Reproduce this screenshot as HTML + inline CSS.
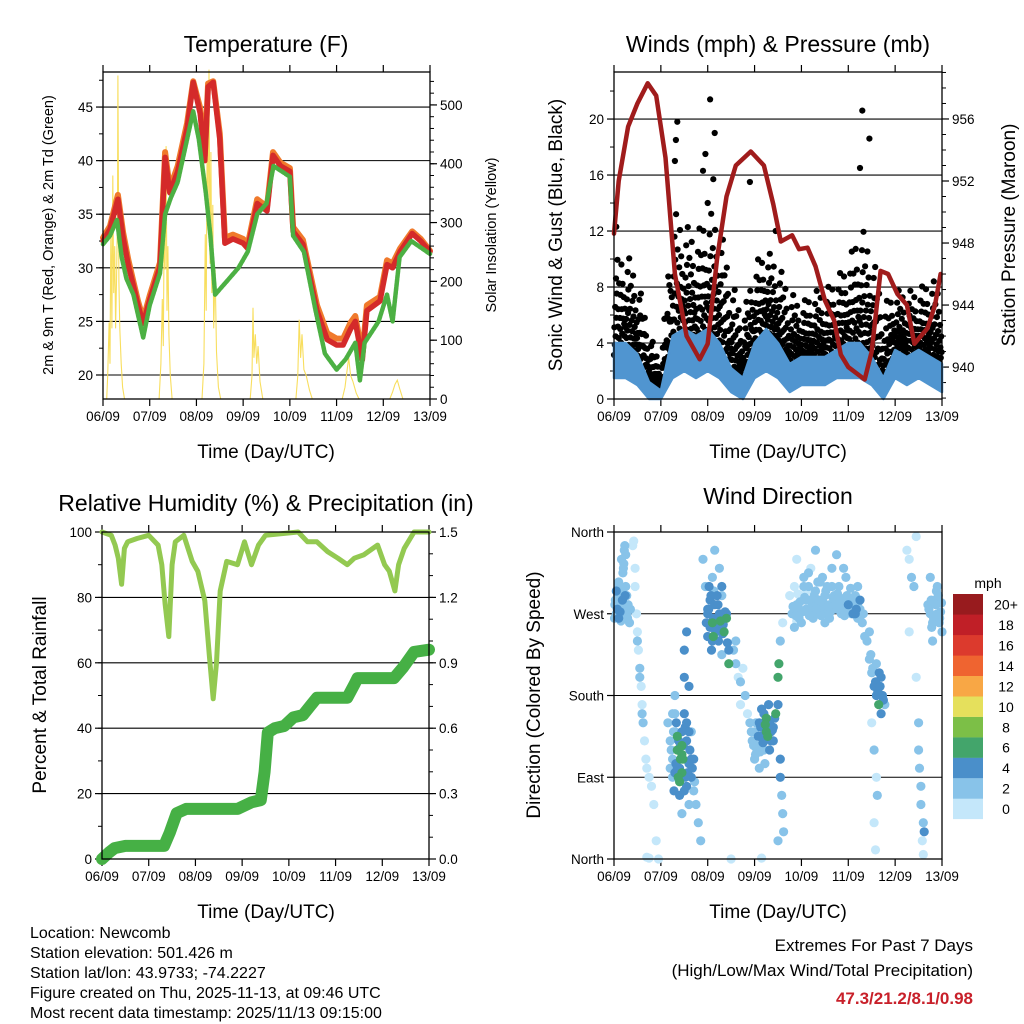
<!DOCTYPE html>
<html><head><meta charset="utf-8">
<style>
html,body{margin:0;padding:0;background:#fff;}
svg{display:block;font-family:"Liberation Sans",sans-serif;}
</style></head>
<body>
<svg id="chart" width="1024" height="1024" viewBox="0 0 1024 1024" xmlns="http://www.w3.org/2000/svg">
<rect x="0" y="0" width="1024" height="1024" fill="#fff"/>
<text x="266" y="52" font-size="23" text-anchor="middle">Temperature (F)</text>
<text x="778" y="52" font-size="23" text-anchor="middle">Winds (mph) &amp; Pressure (mb)</text>
<text x="266" y="511" font-size="23" text-anchor="middle">Relative Humidity (%) &amp; Precipitation (in)</text>
<text x="778" y="504" font-size="23" text-anchor="middle">Wind Direction</text>
<text transform="translate(53,235) rotate(-90)" font-size="14.5" text-anchor="middle">2m &amp; 9m T (Red, Orange) &amp; 2m Td (Green)</text>
<text transform="translate(496,235) rotate(-90)" font-size="14.5" text-anchor="middle">Solar Insolation (Yellow)</text>
<text transform="translate(562,235) rotate(-90)" font-size="19" text-anchor="middle">Sonic Wind &amp; Gust (Blue, Black)</text>
<text transform="translate(1015,235) rotate(-90)" font-size="19" text-anchor="middle">Station Pressure (Maroon)</text>
<text transform="translate(46,695) rotate(-90)" font-size="19" text-anchor="middle">Percent &amp; Total Rainfall</text>
<text transform="translate(540,695) rotate(-90)" font-size="19" text-anchor="middle">Direction (Colored By Speed)</text>
<text x="266" y="458" font-size="19" text-anchor="middle">Time (Day/UTC)</text>
<text x="778" y="458" font-size="19" text-anchor="middle">Time (Day/UTC)</text>
<text x="266" y="918" font-size="19" text-anchor="middle">Time (Day/UTC)</text>
<text x="778" y="918" font-size="19" text-anchor="middle">Time (Day/UTC)</text>
<g font-size="16">
<text x="30" y="938">Location: Newcomb</text>
<text x="30" y="958">Station elevation: 501.426 m</text>
<text x="30" y="978">Station lat/lon: 43.9733; -74.2227</text>
<text x="30" y="998">Figure created on Thu, 2025-11-13, at 09:46 UTC</text>
<text x="30" y="1018">Most recent data timestamp: 2025/11/13 09:15:00</text>
</g>
<g font-size="17" text-anchor="end">
<text x="973" y="951">Extremes For Past 7 Days</text>
<text x="973" y="976">(High/Low/Max Wind/Total Precipitation)</text>
<text x="973" y="1004" fill="#c8202a" font-weight="bold">47.3/21.2/8.1/0.98</text>
</g>
<text x="988" y="588" font-size="14" text-anchor="middle">mph</text>
</svg>
<script>
// ---------- data ----------
const dayLabels = ["06/09","07/09","08/09","09/09","10/09","11/09","12/09","13/09"];
const tempTicks = [20,25,30,35,40,45];
const solarTicks = [0,100,200,300,400,500];
const windTicks = [0,4,8,12,16,20];
const presTicks = [940,944,948,952,956];
const rhTicks = [0,20,40,60,80,100];
const precTicks = [0,0.3,0.6,0.9,1.2,1.5];
const dirTicks = [0,90,180,270,360];
const dirLabels = ["North","East","South","West","North"];
const speedBins = ["0","2","4","6","8","10","12","14","16","18","20+"];
const speedColors = ["#c4e7fa","#88c3e9","#4a8fca","#43a56b","#7cbf47","#e5e05c","#f8a745","#ef6430","#dc3a2d","#c01f27","#981b1e"];

const tempT = [0,0.15,0.32,0.43,0.54,0.64,0.75,0.86,1.0,1.22,1.33,1.43,1.6,1.8,1.93,2.08,2.18,2.25,2.36,2.5,2.61,2.78,3.0,3.1,3.3,3.51,3.64,3.8,4.0,4.07,4.28,4.58,4.8,5.0,5.14,5.3,5.4,5.55,5.65,5.93,6.08,6.2,6.36,6.62,6.8,7.0];
const temp2m = [32.5,33.6,36.4,32.8,30.3,28.5,26.5,24.8,27,30.1,40.3,37,39,43,47.3,44.4,40,46.9,47.3,42,32.3,32.7,32.3,31.8,36,35.3,40.5,39.5,39,33.4,32.2,26,23.3,22.8,22.8,24.3,25,21.4,26,26.9,30.3,30,31.5,33.2,32.5,31.5];
const temp9m = [32.8,33.9,36.8,33.3,30.8,28.9,26.9,25.2,27.4,30.5,40.8,37.4,39.5,43.5,47.4,44.9,40.5,47.2,47.4,42.5,32.8,33.1,32.7,32.2,36.4,35.7,40.8,39.8,39.3,33.8,32.6,26.5,23.9,23.4,23.4,24.9,25.5,21.9,26.5,27.3,30.7,30.4,31.8,33.4,32.7,31.6];
const dewT = [0,0.15,0.3,0.4,0.5,0.65,0.86,1.0,1.22,1.33,1.45,1.6,1.8,1.93,2.05,2.2,2.3,2.4,2.6,2.9,3.1,3.3,3.5,3.65,4.0,4.07,4.3,4.55,4.75,5.0,5.2,5.4,5.5,5.6,5.9,6.08,6.2,6.35,6.6,7.0];
const dewpt = [32.2,33,34.5,31,29,27.5,23.5,26.5,29.5,35,36.5,38,42,44.6,42,37,33,27.5,28.5,30,31.5,35,36,39.5,38.5,33,31.5,26,22,20.5,21.5,23,19.5,23,25,27.5,25,31,32.5,31.3];
const solarT = [0,0.08,0.1,0.13,0.15,0.17,0.19,0.21,0.23,0.25,0.27,0.29,0.31,0.32,0.34,0.36,0.39,0.42,0.46,1.2,1.24,1.27,1.29,1.31,1.33,1.35,1.37,1.39,1.41,1.44,1.48,2.12,2.16,2.19,2.21,2.23,2.25,2.27,2.29,2.31,2.33,2.35,2.37,2.4,2.43,2.47,2.52,3.15,3.19,3.21,3.23,3.26,3.29,3.32,3.36,3.42,4.13,4.17,4.2,4.23,4.26,4.3,4.35,4.42,4.48,5.12,5.18,5.22,5.26,5.3,5.35,5.42,5.48,6.14,6.2,6.25,6.3,6.35,6.42,7.0];
const solarW = [0,0,40,130,60,300,120,380,180,260,120,200,320,550,200,120,60,20,0,0,60,170,90,300,220,430,150,260,110,40,0,0,60,280,150,460,300,560,230,420,180,330,120,220,80,20,0,0,40,155,70,110,60,90,30,0,0,40,135,70,110,50,40,15,0,0,20,45,70,40,30,10,0,0,12,25,32,18,0,0];

const windT = [0,0.25,0.5,0.75,1,1.25,1.5,1.75,2,2.25,2.5,2.75,3,3.25,3.5,3.75,4,4.25,4.5,4.75,5,5.25,5.5,5.75,6,6.25,6.5,6.75,7];
const gustHi = [10,11,9,5,2.5,14,13,12,14,13,9,6,10,11,10,8,7,8,8,9,10,13,11,7,8,8,8,9,8];
const gustLo = [3,3.5,3,1,0.5,3.5,4.5,4,4.5,4,2,1.5,3.5,4.5,3.5,2,2.5,2.5,2.5,3,3.5,3.5,3,1,3,2.5,3,3,2];
const windHi = [4,4,3.2,1.2,0.6,4.5,5,4.5,5,4,2.2,1.5,4,5,4,2.5,3,3,3,3.5,4,4,3,1.5,3.5,3,3.5,3,2.5];
const windLo = [1.5,1.5,1,0,0,1.5,2,1.5,2,1.5,0.5,0,1.5,2,1.5,0.5,1,1,1,1.5,1.5,1.5,1,0,1.5,1,1.5,1,0.5];
const gustPeakT = [1.35,1.3,2.05,1.95,2.15,2.9,5.3,5.45,5.25,1.9,2.12,3.45,0.05,1.32,2.0];
const gustPeakV = [19.8,17,21.4,17.5,19,15.5,20.6,18.6,16.5,16.3,15.7,12,12.3,18.5,14];
const presT = [0,0.1,0.3,0.5,0.72,0.9,1.1,1.3,1.55,1.83,2.0,2.2,2.4,2.6,2.92,3.2,3.4,3.56,3.8,3.95,4.13,4.3,4.5,4.7,4.84,5.0,5.35,5.5,5.69,5.85,6.05,6.25,6.41,6.55,6.69,6.85,6.97];
const presMb = [948.6,952,955.5,957,958.3,957.5,953.5,946,942,940.5,941.5,947,951,953,953.9,953,950.5,948.1,948.5,947.6,947.7,946.5,944.3,943,940.8,940,939.2,941,946.2,946,944.7,944,941.5,942,942.5,944,946];

const rhT = [0,0.2,0.28,0.35,0.42,0.48,0.55,0.75,1.0,1.2,1.28,1.35,1.43,1.5,1.57,1.75,1.93,2.05,2.2,2.3,2.38,2.45,2.53,2.67,2.9,3.05,3.2,3.35,3.5,4.2,4.4,4.6,4.83,5.05,5.25,5.4,5.6,5.9,6.05,6.15,6.27,6.35,6.47,6.68,7.0];
const rhPct = [100,99,96,92,84,95,97,98,99,96,90,78,68,90,97,99,91,88,79,62,49,60,82,91,90,97,90,96,99,100,97,97,94,92,90,92,93,96,90,88,82,90,95,100,100];
const precT = [0,0.15,0.27,0.5,1.33,1.45,1.6,1.8,2.9,3.2,3.4,3.48,3.55,3.7,3.9,4.1,4.3,4.45,4.6,5.25,5.4,5.47,6.25,6.45,6.68,7.0];
const precIn = [0,0.03,0.05,0.06,0.06,0.12,0.21,0.23,0.23,0.26,0.27,0.4,0.58,0.6,0.61,0.65,0.66,0.7,0.74,0.74,0.8,0.83,0.83,0.88,0.95,0.96];

const dirT1 = [0.02,0.05,0.08,0.1,0.12,0.15,0.18,0.2,0.22,0.25,0.28,0.3,0.33,0.05,0.15,0.25,0.35,0.1,0.2,0.03,0.13,0.27,
0.42,0.45,0.48,0.5,0.52,0.55,0.58,0.6,0.62,0.65,0.68,0.7,0.75,0.8,0.85,0.5,0.55,0.45,0.4,0.6,0.9,0.95,0.7,0.75,
1.15,1.2,1.25,1.3,1.35,1.4,1.45,1.5,1.55,1.6,1.65,1.7,1.75,1.8,1.85,1.3,1.4,1.45,1.35,1.5,1.5,1.55,1.6,1.25,1.2,1.7,1.65,1.45,1.55,1.6,1.45,1.3,1.38,1.42,1.33,1.48,1.52,1.28,
1.9,1.95,2.0,2.05,2.1,2.15,2.2,2.25,2.3,2.35,2.4,2.45,2.0,2.1,2.2,2.3,2.05,2.15,2.25,2.1,2.4,2.45,2.0,2.2,2.3,2.12,
2.55,2.6,2.65,2.7,2.75,2.8,2.6,2.7,2.85,2.5,3.15,
2.9,2.95,3.0,3.05,3.1,3.15,3.2,3.25,3.3,3.35,3.4,3.45,3.5,3.0,3.1,3.2,3.3,3.4,3.15,3.25,3.05,3.35,3.12,3.28,
3.5,3.52,3.55,3.55,3.58,3.6,3.62,3.55,3.5,3.6,
3.8,3.85,3.9,3.95,4.0,4.05,4.1,4.15,4.2,4.25,4.3,4.35,4.4,4.45,4.5,4.55,4.6,4.65,4.7,4.75,4.8,4.85,4.9,4.95,5.0,5.05,5.1,5.15,5.2,5.25,5.3,3.85,4.2,4.5,4.9,5.2,4.0,4.6,3.9,4.3,4.75,5.35,3.75,4.1,4.4,4.7,5.0,3.95,4.25,4.55,4.85,5.15,
5.4,5.45,5.5,5.55,5.6,5.65,5.7,5.75,5.5,5.55,5.6,5.62,5.55,5.58,5.45,5.7,5.6,
6.25,6.3,6.35,6.3,6.4,6.45,6.5,6.5,6.55,6.55,6.6,6.58,6.6,6.45,6.7,6.75,6.8,6.85,6.9,6.95,7.0,6.8,6.9,6.75,6.62,6.52];
const dirDeg1 = [280,270,290,265,300,275,285,320,340,300,270,280,260,295,262,335,275,305,270,285,272,290,
350,300,270,250,230,210,190,170,150,130,110,100,90,80,60,240,200,320,345,160,20,0,2,1,
150,130,110,95,120,100,140,160,130,105,90,75,60,40,20,140,85,115,100,200,230,250,190,160,100,110,140,95,80,60,50,180,130,110,150,125,90,75,
330,300,270,255,240,280,290,270,300,250,265,230,245,310,255,225,285,340,320,260,270,215,275,262,290,245,
230,215,200,195,210,180,240,170,160,0,1,
150,130,140,120,150,135,160,140,150,130,145,160,170,110,100,120,170,130,165,155,125,140,148,135,
200,215,240,90,70,50,30,110,20,260,
270,300,280,265,290,310,275,300,285,270,295,280,305,275,290,270,280,320,285,275,300,270,280,310,275,285,270,290,265,275,260,255,320,260,320,300,260,265,330,340,335,245,290,285,270,290,280,275,265,300,280,270,
240,220,205,190,180,170,200,175,150,120,90,70,40,10,250,160,215,
340,330,310,250,300,200,150,120,80,60,40,20,5,355,280,270,260,285,270,265,250,240,300,310,30,100];
const dirSpd1 = [3,3,3,4,3,3,4,3,3,3,3,3,2,4,3,3,2,3,3,3,4,3,
1,1,1,1,1,2,1,1,2,1,1,1,1,1,1,2,2,1,1,2,1,0,0,0,
2,3,3,4,6,5,4,5,4,5,4,3,3,2,2,3,6,7,5,4,4,4,4,2,3,4,3,6,4,3,3,3,5,7,5,4,5,4,
3,3,4,4,4,5,5,5,4,6,6,4,5,3,4,3,4,3,3,6,5,6,4,5,3,7,
2,2,1,2,1,2,2,1,1,0,0,
2,2,3,3,4,4,5,6,5,5,4,6,4,2,2,3,4,4,4,6,3,5,4,6,
7,6,2,4,3,2,2,4,3,1,
2,1,2,2,1,2,2,2,2,2,2,2,3,2,2,2,3,3,2,2,3,2,2,3,3,3,4,3,3,3,3,2,1,2,2,3,2,2,1,2,3,3,1,3,2,3,4,2,2,3,3,4,
2,3,3,4,4,6,4,4,1,2,1,2,1,1,2,4,3,
1,1,2,1,2,1,2,2,3,2,3,1,1,1,3,3,3,3,3,3,2,3,2,2,4,2];
const dirT2 = [3.82,3.88,3.92,3.97,4.02,4.07,4.12,4.17,4.22,4.27,4.32,4.37,4.42,4.47,4.52,4.57,4.62,4.67,4.72,4.77,4.82,4.87,4.92,4.97,5.02,5.07,5.12,5.17,5.22,5.27,3.9,4.05,4.15,4.35,4.45,4.65,4.8,5.05,5.25,5.32,
0.01,0.04,0.07,0.09,0.11,0.14,0.17,0.19,0.21,0.24,0.26,0.29,0.31,0.16,0.23,
1.22,1.27,1.32,1.37,1.42,1.47,1.52,1.57,1.62,1.67,1.72,1.3,1.4,1.5,1.6,1.35,1.45,1.55,1.25,1.65,
1.97,2.02,2.07,2.12,2.17,2.22,2.27,2.32,2.37,2.42,2.03,2.13,2.23,2.33,2.08,
2.93,2.98,3.03,3.08,3.13,3.18,3.23,3.28,3.33,3.38,3.43,3.02,3.12,3.22,3.32,
6.72,6.77,6.82,6.87,6.92,6.97,6.78,6.88,6.94,6.99,
5.48,5.52,5.58,5.63,5.68,5.73,5.78,5.66];
const dirDeg2 = [278,268,292,283,272,288,296,268,278,290,275,285,268,282,295,278,272,288,280,292,276,283,268,290,282,270,280,275,283,268,262,300,315,305,310,300,288,298,285,270,
265,285,275,300,280,268,295,315,325,290,278,265,275,330,345,
120,140,105,90,125,110,145,95,120,100,85,160,70,75,140,135,125,150,90,110,
260,275,290,265,250,280,262,248,272,238,300,295,240,258,230,
140,125,150,135,145,128,148,138,152,142,155,115,118,105,120,
275,285,265,280,290,272,255,295,260,282,
225,210,195,185,190,180,170,205];
const dirSpd2 = [2,2,1,2,2,2,1,2,2,2,2,3,2,2,2,3,2,2,3,2,2,3,2,2,3,3,3,4,3,3,1,2,2,2,3,2,3,3,4,3,
3,3,4,3,3,3,3,3,3,4,3,3,3,3,3,
3,3,4,6,5,7,4,4,5,4,3,3,4,4,5,6,7,4,3,4,
4,4,4,5,4,5,6,4,5,4,4,3,4,5,4,
3,3,3,4,5,5,6,5,4,5,4,2,3,3,4,
3,3,3,3,3,3,2,2,3,3,
3,3,4,4,5,4,3,4];
const dirT = dirT1.concat(dirT2);
const dirDeg = dirDeg1.concat(dirDeg2);
const dirSpd = dirSpd1.concat(dirSpd2);

// ---------- helpers ----------
const NS = "http://www.w3.org/2000/svg";
const svg = document.getElementById("chart");
function mk(tag, attrs, parent){
  const e = document.createElementNS(NS, tag);
  for (const k in attrs) e.setAttribute(k, attrs[k]);
  (parent || svg).appendChild(e);
  return e;
}
function lin(v,d0,d1,r0,r1){ return r0 + (v-d0)/(d1-d0)*(r1-r0); }
const TL = {x0:103,x1:430,y0:72,y1:399};
const TR = {x0:614,x1:942,y0:72,y1:399};
const BL = {x0:102,x1:429,y0:532,y1:859};
const BR = {x0:614,x1:942,y0:532,y1:859};
function xS(p,d){ return p.x0 + d/7*(p.x1-p.x0); }
const tY = v=>lin(v,17.76,48.27,399,72);
const sY = v=>lin(v,0,556,399,72);
const wY = v=>lin(v,0,23.36,399,72);
const pY = v=>lin(v,937.94,959.03,399,72);
const rY = v=>lin(v,0,100,859,532);
const qY = v=>lin(v,0,1.5,859,532);
const dY = v=>lin(v,0,360,859,532);

function pathD(p, ts, vs, yf){
  let d = "";
  for (let i=0;i<ts.length;i++) d += (i?"L":"M") + xS(p,ts[i]).toFixed(1) + "," + yf(vs[i]).toFixed(1);
  return d;
}

function drawAxes(p, key, leftTicks, leftLab, leftY, leftMinor, rightTicks, rightLab, rightY, rightMinor, gridTicks, gridY){
  const g = mk("g", {});
  
  
  for (const v of gridTicks){
    const y = gridY(v);
    if (y <= p.y0+1 || y >= p.y1-1) continue;
    const l = mk("line", {x1:p.x0,x2:p.x1,y1:y,y2:y,stroke:"#000","stroke-width":1.1}, g);
    
    
  }
  for (let i=0;i<dayLabels.length;i++){
    const x = xS(p,i);
    const tb = mk("line", {x1:x,x2:x,y1:p.y1,y2:p.y1+7,stroke:"#000","stroke-width":1.2}, g);
    
    
    const tt = mk("line", {x1:x,x2:x,y1:p.y0,y2:p.y0-7,stroke:"#000","stroke-width":1.2}, g);
    
    
    const lb = mk("text", {x:x,y:p.y1+22,"font-size":13.5,"text-anchor":"middle"}, g);
    lb.textContent = dayLabels[i];
    
    
  }
  for (const m of leftMinor){
    const y = leftY(m);
    if (y < p.y0 || y > p.y1) continue;
    const t = mk("line", {x1:p.x0-4,x2:p.x0,y1:y,y2:y,stroke:"#000","stroke-width":1}, g);
    
    
  }
  for (let i=0;i<leftTicks.length;i++){
    const y = leftY(leftTicks[i]);
    const t = mk("line", {x1:p.x0-7,x2:p.x0,y1:y,y2:y,stroke:"#000","stroke-width":1.2}, g);
    
    
    const lb = mk("text", {x:p.x0-10,y:y+5,"font-size":13.5,"text-anchor":"end"}, g);
    lb.textContent = leftLab[i];
    
    
  }
  if (rightTicks){
    for (const m of rightMinor){
      const y = rightY(m);
      if (y < p.y0 || y > p.y1) continue;
      const t = mk("line", {x1:p.x1,x2:p.x1+4,y1:y,y2:y,stroke:"#000","stroke-width":1}, g);
      
      
    }
    for (let i=0;i<rightTicks.length;i++){
      const y = rightY(rightTicks[i]);
      const t = mk("line", {x1:p.x1,x2:p.x1+7,y1:y,y2:y,stroke:"#000","stroke-width":1.2}, g);
      
      
      const lb = mk("text", {x:p.x1+10,y:y+5,"font-size":13.5,"text-anchor":"start"}, g);
      lb.textContent = rightLab[i];
      
      
    }
  }
  return g;
}
function drawFrame(p, key){
  const r = mk("rect", {x:p.x0,y:p.y0,width:p.x1-p.x0,height:p.y1-p.y0,fill:"none",stroke:"#000","stroke-width":1.3});
  
  
}
function range(a,b,s){ const o=[]; for(let v=a; v<=b+1e-9; v+=s) o.push(+v.toFixed(3)); return o; }

// ---------- Temperature panel ----------
drawAxes(TL,"temperature",tempTicks,tempTicks.map(String),tY,range(17.5,47.5,2.5),solarTicks,solarTicks.map(String),sY,range(0,540,20),tempTicks,tY);
const solarLine = mk("path",{d:pathD(TL,solarT,solarW,sY),fill:"none",stroke:"#f8de5e","stroke-width":1.1});


const t9Line = mk("path",{d:pathD(TL,tempT,temp9m,tY),fill:"none",stroke:"#f07a2c","stroke-width":6,"stroke-linejoin":"round","stroke-linecap":"round"});


const t2Line = mk("path",{d:pathD(TL,tempT,temp2m,tY),fill:"none",stroke:"#d42a2a","stroke-width":5.5,"stroke-linejoin":"round","stroke-linecap":"round"});


const tdLine = mk("path",{d:pathD(TL,dewT,dewpt,tY),fill:"none",stroke:"#4cb043","stroke-width":4.5,"stroke-linejoin":"round","stroke-linecap":"round","stroke-dasharray":"3 1.2"});


drawFrame(TL,"temperature");

// ---------- Winds panel ----------
drawAxes(TR,"winds",windTicks,windTicks.map(String),wY,range(0,22,2),presTicks,presTicks.map(String),pY,range(938,959,1),windTicks,wY);
const gustG = mk("g",{fill:"#000"});


const fr = [0.02,0.3,0.12,0.5,0.2,0.78,0.38,0.62,0.07,0.95,0.28,0.45,0.16,0.7,0.04,0.35,0.24,0.57,0.1,0.86,0.42,0.18,0.66,0.32,0.06,0.52,0.26,0.14,0.4,0.22];
for (let i=0;i<windT.length-1;i++){
  for (let k=0;k<fr.length;k++){
    const a = k/fr.length;
    const t = windT[i] + a*(windT[i+1]-windT[i]);
    const lo = gustLo[i] + a*(gustLo[i+1]-gustLo[i]);
    const hi = gustHi[i] + a*(gustHi[i+1]-gustHi[i]);
    const v = lo + (hi-lo)*fr[k];
    const c = mk("circle",{cx:xS(TR,t).toFixed(1),cy:wY(v).toFixed(1),r:3.1},gustG);
    
    
  }
}
for (let i=0;i<gustPeakT.length;i++){
  const c = mk("circle",{cx:xS(TR,gustPeakT[i]).toFixed(1),cy:wY(gustPeakV[i]).toFixed(1),r:3.1},gustG);
  
  
}
let wd = "";
for (let i=0;i<windT.length;i++) wd += (i?"L":"M") + xS(TR,windT[i]).toFixed(1)+","+wY(windHi[i]).toFixed(1);
for (let i=windT.length-1;i>=0;i--) wd += "L" + xS(TR,windT[i]).toFixed(1)+","+wY(windLo[i]).toFixed(1);
const windArea = mk("path",{d:wd+"Z",fill:"#5095d0",stroke:"#5095d0","stroke-width":2.5,"stroke-linejoin":"round"});


const presLine = mk("path",{d:pathD(TR,presT,presMb,pY),fill:"none",stroke:"#a01c1c","stroke-width":4.5,"stroke-linejoin":"round","stroke-linecap":"round"});


drawFrame(TR,"winds");

// ---------- Humidity panel ----------
drawAxes(BL,"humidity",rhTicks,rhTicks.map(String),rY,range(0,100,10),precTicks,precTicks.map(v=>v.toFixed(1)),qY,range(0,1.5,0.1),rhTicks,rY);
const rhLine = mk("path",{d:pathD(BL,rhT,rhPct,rY),fill:"none",stroke:"#93c951","stroke-width":5,"stroke-linejoin":"round","stroke-linecap":"round"});


const prLine = mk("path",{d:pathD(BL,precT,precIn,qY),fill:"none",stroke:"#46b045","stroke-width":12,"stroke-linejoin":"round","stroke-linecap":"round"});


drawFrame(BL,"humidity");

// ---------- Wind direction panel ----------
drawAxes(BR,"direction",dirTicks,dirLabels,dY,[],null,null,null,null,dirTicks,dY);
const dirG = mk("g",{});


const order = dirT.map((_,i)=>i).sort((a,b)=>dirSpd[a]-dirSpd[b]);
for (const i of order){
  const bin = Math.min(10, Math.floor(dirSpd[i]/2));
  const c = mk("circle",{cx:xS(BR,dirT[i]).toFixed(1),cy:dY(dirDeg[i]).toFixed(1),r:4.6,fill:speedColors[bin]},dirG);
  
  
}
drawFrame(BR,"direction");

// ---------- colorbar ----------
const cbG = mk("g",{});


for (let i=0;i<speedBins.length;i++){
  const y = 819 - (i+1)*20.45;
  const r = mk("rect",{x:953,y:y.toFixed(1),width:30,height:20.6,fill:speedColors[i]},cbG);
  
  
  const t = mk("text",{x:1006,y:(y+15.5).toFixed(1),"font-size":14,"text-anchor":"middle"},cbG);
  t.textContent = speedBins[i];
  
  
}
</script>
</body></html>
